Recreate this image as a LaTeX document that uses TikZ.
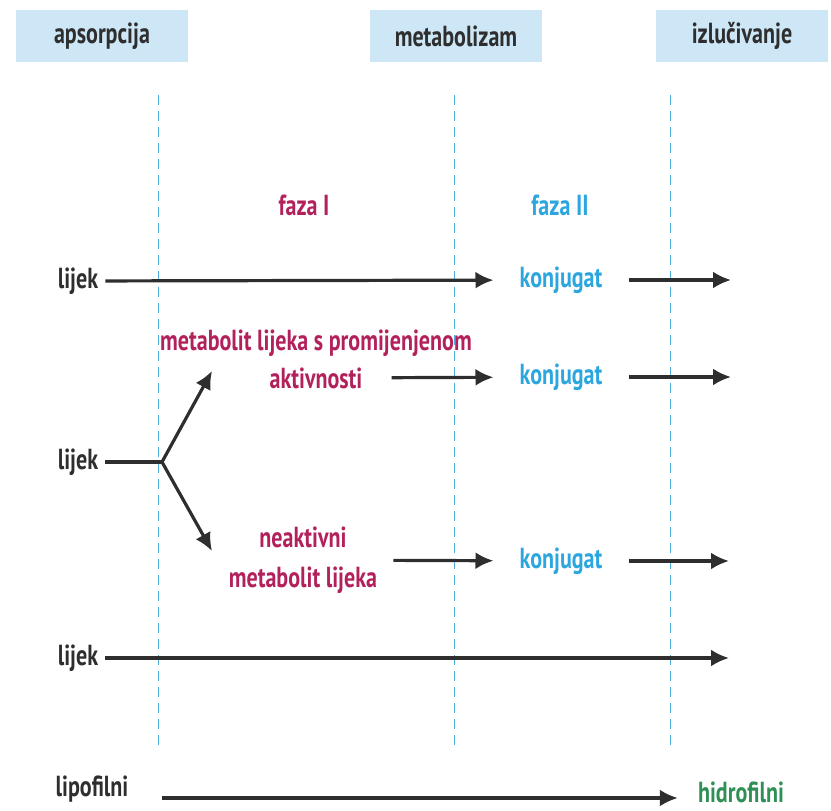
\documentclass[tikz,border=0pt]{standalone}
\usepackage{fontspec}
\setmainfont{PT Sans}[FakeStretch=0.76]
\usetikzlibrary{arrows.meta}
\usetikzlibrary{positioning}

\definecolor{headfill}{HTML}{CDE7F7}
\definecolor{guide}{HTML}{4AAFDA}
\definecolor{fazared}{HTML}{B3215C}
\definecolor{konjblue}{HTML}{2CA6DE}
\definecolor{hidrogreen}{HTML}{2F8F55}
\definecolor{darktxt}{HTML}{2E2E2E}

\begin{document}
\begin{tikzpicture}
    [
    x=1pt,y=-1pt,
    txt/.style={font=\fontsize{29}{40}\selectfont\bfseries,text=darktxt,inner sep=0pt},
    head/.style={txt,fill=headfill,minimum width=172pt,minimum height=52pt},
    lijeknode/.style={txt,inner xsep=7pt},
    konj/.style={txt,text=konjblue,inner xsep=26pt},
    metab/.style={txt,text=fazared,align=center},
    guideline/.style={guide,line width=1pt,dash pattern=on 10pt off 6pt},
    arr/.style={-{Latex[length=18pt,width=17pt]},line width=3.2pt,darktxt},
    plain/.style={line width=3.2pt,darktxt},
    ]
    \useasboundingbox (0,0) rectangle (831,811);

    \node (apsorp) at (102,36) [head] {apsorpcija};
    \node (metabol) at (456,36) [head] {metabolizam};
    \node (izluc) at (742,36) [head] {izlučivanje};

    \coordinate (g1top) at (158,95);
    \coordinate (g1bot) at (158,745);
    \coordinate (g2top) at (454,95);
    \coordinate (g2bot) at (454,745);
    \coordinate (g3top) at (670,95);
    \coordinate (g3bot) at (670,745);
    \draw [guideline] (g1top) to (g1bot);
    \draw [guideline] (g2top) to (g2bot);
    \draw [guideline] (g3top) to (g3bot);

    \node (faza1) at (304,205) [txt,text=fazared] {faza I};
    \node (faza2) at (560,205) [txt,text=konjblue] {faza II};

    % prvi red
    \node (lijek1) at (78,281) [lijeknode] {lijek};
    \node (konj1) at (561,280) [konj] {konjugat};
    \coordinate (izl1) at (731,280);
    \draw [arr] (lijek1) to (konj1);
    \draw [arr] (konj1) to (izl1);

    % aktivni metabolit
    \node (metA) at (316,343) [metab] {metabolit lijeka s promijenjenom};
    \node (metB) at (316,378) [metab,inner xsep=29pt] {aktivnosti};
    \node (konj2) at (561,377) [konj] {konjugat};
    \coordinate (izl2) at (731,377);
    \draw [arr] (metB) to (konj2);
    \draw [arr] (konj2) to (izl2);

    % grananje
    \node (lijek2) at (78,462) [lijeknode] {lijek};
    \coordinate (fork) at (162,462);
    \coordinate (upTip) at (212,371);
    \coordinate (downTip) at (212,551);
    \draw [plain] (lijek2) to (fork);
    \draw [arr] (fork) to (upTip);
    \draw [arr] (fork) to (downTip);

    % neaktivni metabolit
    \node (neakt) at (303,560) [metab,inner xsep=16pt] {neaktivni\\metabolit lijeka};
    \node (konj3) at (561,561) [konj] {konjugat};
    \coordinate (izl3) at (729,561);
    \draw [arr] (neakt) to (konj3);
    \draw [arr] (konj3) to (izl3);

    % bez metabolizma
    \node (lijek3) at (78,658) [lijeknode] {lijek};
    \coordinate (izl4) at (729,658);
    \draw [arr] (lijek3) to (izl4);

    % lipofilni -> hidrofilni
    \node (lipo) at (92,789) [txt] {lipofilni};
    \node (hidro) at (741,792) [txt,text=hidrogreen,inner xsep=20pt] {hidrofilni};
    \coordinate (lipoStart) at (162,798);
    \draw [arr] (lipoStart) to (hidro.west |- lipoStart);
\end{tikzpicture}
\end{document}
